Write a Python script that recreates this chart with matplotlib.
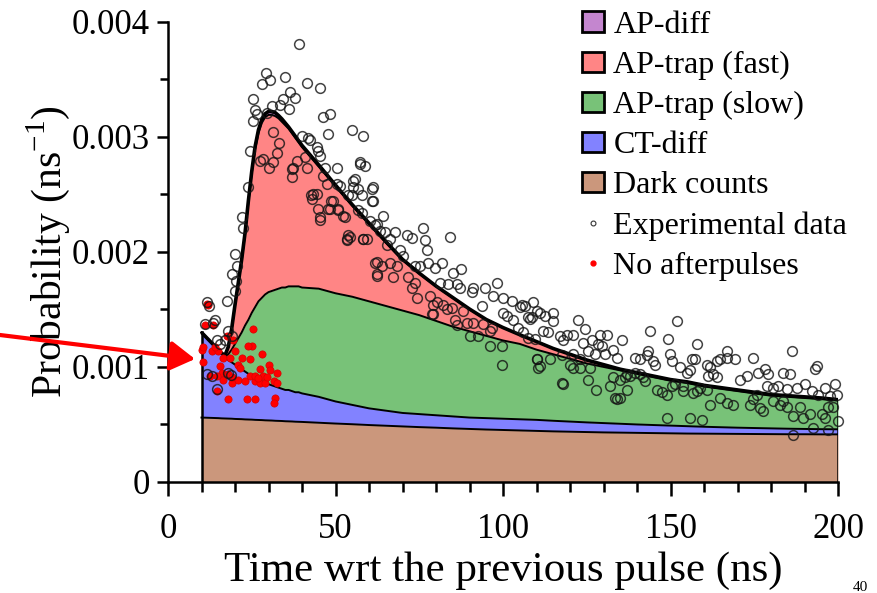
import numpy as np
import matplotlib
matplotlib.use("Agg")
import matplotlib.pyplot as plt
from matplotlib.patches import Patch, FancyArrowPatch
from matplotlib.lines import Line2D
from matplotlib.ticker import FixedLocator, FixedFormatter

plt.rcParams['font.family'] = ['Liberation Serif', 'DejaVu Serif']
plt.rcParams['mathtext.fontset'] = 'custom'
plt.rcParams['mathtext.rm'] = 'Liberation Serif'

# ---------------- data ----------------
time_ns = [10, 11, 12, 13, 14, 15, 16, 17, 18, 19, 20, 21, 22, 23, 24, 25, 26, 27, 28, 29,
           30, 31, 32, 33, 34, 35, 36, 37, 38, 39, 40, 45, 50, 55, 60, 65, 70, 75, 80, 85,
           90, 95, 100, 105, 110, 115, 120, 125, 130, 135, 140, 145, 150, 155, 160, 165,
           170, 175, 180, 185, 190, 195, 200]

# stacked tops of each component (probability, ns^-1)
dark_counts_top = [0.000560, 0.000559, 0.000558, 0.000557, 0.000556, 0.000555, 0.000553, 0.000552,
                   0.000551, 0.000550, 0.000548, 0.000547, 0.000546, 0.000544, 0.000543, 0.000542,
                   0.000540, 0.000539, 0.000538, 0.000536, 0.000535, 0.000534, 0.000532, 0.000531,
                   0.000530, 0.000528, 0.000527, 0.000526, 0.000524, 0.000523, 0.000522,
                   0.000515, 0.000508, 0.000502, 0.000495, 0.000489, 0.000483, 0.000477, 0.000472,
                   0.000466, 0.000461, 0.000456, 0.000452, 0.000448, 0.000444, 0.000440, 0.000437,
                   0.000434, 0.000431, 0.000429, 0.000427, 0.000425, 0.000423, 0.000421, 0.000420,
                   0.000419, 0.000418, 0.000417, 0.000416, 0.000415, 0.000415, 0.000414, 0.000414]

ct_diff_top = [0.00130, 0.00127, 0.00124, 0.00121, 0.00118, 0.00115, 0.00112, 0.00109, 0.00106,
               0.00104, 0.00102, 0.00100, 0.00098, 0.00096, 0.00094, 0.00092, 0.00090, 0.00089,
               0.00087, 0.00086, 0.00085, 0.00084, 0.00083, 0.00082, 0.00081, 0.00080, 0.00080,
               0.00079, 0.00078, 0.00078, 0.00077,
               0.00074, 0.00070, 0.00067, 0.00064, 0.00062, 0.00060, 0.00059, 0.00058, 0.00057,
               0.00056, 0.000555, 0.00055, 0.000545, 0.00054, 0.000532, 0.000525, 0.000518,
               0.000512, 0.000506, 0.000500, 0.000495, 0.000490, 0.000485, 0.000480, 0.000476,
               0.000472, 0.000469, 0.000466, 0.000463, 0.000461, 0.000459, 0.000458]

ap_slow_top = [0.00130, 0.00127, 0.00124, 0.00121, 0.00118, 0.00115, 0.00112, 0.00109, 0.00111,
               0.00115, 0.00120, 0.00125, 0.00130, 0.00136, 0.00141, 0.00147, 0.00152, 0.00157,
               0.00160, 0.00163, 0.00165, 0.00166, 0.00167, 0.00168, 0.00169, 0.00169, 0.00170,
               0.00170, 0.00170, 0.00170, 0.00169,
               0.00168, 0.00164, 0.00161, 0.00157, 0.00153, 0.00149, 0.00145, 0.00140, 0.00135,
               0.00131, 0.00127, 0.00123, 0.00120, 0.00115, 0.00111, 0.00107, 0.00103, 0.00100,
               0.00097, 0.00094, 0.00091, 0.00088, 0.00086, 0.00083, 0.00081, 0.00079, 0.00077,
               0.00075, 0.00074, 0.00073, 0.00072, 0.00071]

ap_fast_top = [0.00130, 0.00127, 0.00124, 0.00121, 0.00118, 0.00115, 0.00112, 0.00110, 0.00117,
               0.00132, 0.00153, 0.00172, 0.00192, 0.00215, 0.00243, 0.00268, 0.00289, 0.00303,
               0.00312, 0.00317, 0.00319, 0.00319, 0.00318, 0.00316, 0.00313, 0.00310, 0.00307,
               0.00303, 0.00299, 0.00295, 0.00291,
               0.00274, 0.00257, 0.00240, 0.00224, 0.00208, 0.00193, 0.00181, 0.00170, 0.00160,
               0.00150, 0.00141, 0.00134, 0.00128, 0.00122, 0.00116, 0.00111, 0.00106, 0.00102,
               0.00098, 0.00095, 0.00092, 0.00089, 0.00087, 0.00084, 0.00082, 0.00080, 0.00078,
               0.00076, 0.00075, 0.00074, 0.00073, 0.000715]

ap_diff_top = [0.00130, 0.00127, 0.00124, 0.00121, 0.00118, 0.00115, 0.00112, 0.00110, 0.001175,
               0.001330, 0.001540, 0.001735, 0.001935, 0.002165, 0.002445, 0.002700, 0.002915,
               0.003060, 0.003150, 0.003200, 0.003220, 0.003220, 0.003210, 0.003185, 0.003155,
               0.003120, 0.003085, 0.003045, 0.003005, 0.002965, 0.002925,
               0.002755, 0.002580, 0.002410, 0.002250, 0.002090, 0.001935, 0.001815, 0.001703,
               0.001603, 0.001503, 0.001412, 0.001342, 0.00128, 0.00122, 0.00116, 0.00111,
               0.00106, 0.00102, 0.00098, 0.00095, 0.00092, 0.00089, 0.00087, 0.00084, 0.00082,
               0.00080, 0.00078, 0.00076, 0.00075, 0.00074, 0.00073, 0.000715]

# experimental data points (time, probability)
exp_points = [
    (11.5, 0.00156), (12.2, 0.00153), (11.0, 0.00137), (13.5, 0.00138), (14.0, 0.00141),
    (17.5, 0.00157), (20.0, 0.00166), (20.2, 0.00175), (14.5, 0.00123), (17.0, 0.00123),
    (19.0, 0.00127), (15.5, 0.00120), (18.0, 0.00131), (11.5, 0.00094), (13.0, 0.00092),
    (14.5, 0.00081), (18.0, 0.00095), (18.8, 0.00093),
    (19.0, 0.00181), (20.5, 0.00188), (20.0, 0.00198), (22.5, 0.00221), (22.0, 0.00230),
    (24.0, 0.00256), (24.5, 0.00288), (25.5, 0.00314), (26.0, 0.00323), (26.5, 0.00320),
    (25.5, 0.00333), (28.0, 0.00346), (30.5, 0.00349), (31.0, 0.00327), (29.5, 0.00321),
    (33.4, 0.00328), (34.4, 0.00333), (36.0, 0.00324), (36.4, 0.00339), (41.4, 0.00347),
    (28.5, 0.00281), (27.5, 0.00279), (31.4, 0.00304), (33.0, 0.00295), (32.4, 0.00286),
    (31.4, 0.00278), (30.0, 0.00273), (37.4, 0.00273), (38.4, 0.00279), (36.9, 0.00272),
    (39.9, 0.00301), (41.9, 0.00299), (42.4, 0.00297), (44.4, 0.00291), (44.9, 0.00288),
    (46.4, 0.00317), (48.4, 0.00320), (47.9, 0.00302), (46.9, 0.00273), (36.9, 0.00265),
    (42.8, 0.00249), (44.4, 0.00250), (44.9, 0.00237), (48.4, 0.00237), (45.4, 0.00230),
    (49.3, 0.00244), (50.8, 0.00236), (52.8, 0.00230), (53.8, 0.00215), (53.3, 0.00210),
    (58.3, 0.00211), (55.8, 0.00263), (55.3, 0.00256), (57.3, 0.00276), (58.8, 0.00275),
    (60.8, 0.00255), (61.3, 0.00244), (61.8, 0.00223), (62.3, 0.00191), (62.3, 0.00181),
    (56.8, 0.00236), (39.1, 0.00381), (34.9, 0.00352), (29.3, 0.00355), (45.5, 0.00342),
    (38.0, 0.00334), (54.8, 0.00306), (58.2, 0.00301),
    (40.9, 0.00282), (41.4, 0.00273), (45.4, 0.00283), (50.3, 0.00273), (57.3, 0.00278),
    (46.4, 0.00266), (47.4, 0.00259), (50.3, 0.00259), (51.3, 0.00257), (55.3, 0.00262),
    (56.8, 0.00255), (57.8, 0.00249), (54.8, 0.00249), (53.8, 0.00249), (61.3, 0.00256),
    (60.8, 0.00244), (43.4, 0.00250), (42.9, 0.00246), (48.8, 0.00244), (47.9, 0.00237),
    (50.8, 0.00237), (52.3, 0.00231), (57.8, 0.00234), (64.3, 0.00231), (60.3, 0.00227),
    (62.3, 0.00224), (63.3, 0.00218), (64.8, 0.00217), (67.8, 0.00217), (71.2, 0.00215),
    (76.2, 0.00221), (72.7, 0.00212), (76.7, 0.00210), (77.2, 0.00202), (84.2, 0.00213),
    (53.3, 0.00211), (54.3, 0.00213), (58.3, 0.00211), (59.3, 0.00211), (66.3, 0.00211),
    (69.3, 0.00202), (65.3, 0.00206), (70.2, 0.00196), (61.8, 0.00190), (63.8, 0.00188),
    (66.3, 0.00190), (68.3, 0.00188), (73.7, 0.00188), (75.2, 0.00188), (77.7, 0.00190),
    (79.7, 0.00186), (81.7, 0.00190), (62.3, 0.00179), (67.3, 0.00178), (71.7, 0.00178),
    (73.7, 0.00173), (72.7, 0.00169), (74.2, 0.00160), (78.2, 0.00162), (81.2, 0.00173),
    (83.7, 0.00172), (85.2, 0.00182), (87.6, 0.00185), (86.2, 0.00172), (87.2, 0.00169),
    (91.1, 0.00169), (94.6, 0.00169), (98.1, 0.00173), (79.2, 0.00154), (82.2, 0.00154),
    (80.2, 0.00156), (83.2, 0.00150), (84.7, 0.00151), (79.2, 0.00146), (86.2, 0.00136),
    (88.2, 0.00149), (90.6, 0.00165), (93.6, 0.00153), (97.1, 0.00162), (100.1, 0.00160),
    (102.6, 0.00157), (105.6, 0.00154), (108.1, 0.00142), (110.1, 0.00149), (89.2, 0.00138),
    (91.1, 0.00138), (94.1, 0.00137), (96.6, 0.00134), (100.1, 0.00147), (101.1, 0.00144),
    (103.1, 0.00141), (104.6, 0.00134), (106.1, 0.00130), (107.6, 0.00125), (109.6, 0.00124),
    (90.1, 0.00127), (92.6, 0.00127), (96.1, 0.00131), (96.1, 0.00118), (99.6, 0.00118),
    (99.6, 0.00102), (110.1, 0.00107), (111.0, 0.00101), (45.4, 0.00228), (78.7, 0.00146),
    (85.7, 0.00141),
    (106.6, 0.00153), (109.0, 0.00156), (111.0, 0.00147), (112.5, 0.00144), (115.0, 0.00147),
    (115.0, 0.00140), (107.6, 0.00143), (108.6, 0.00143), (105.1, 0.00152), (122.5, 0.00141),
    (124.5, 0.00133), (112.0, 0.00131), (113.5, 0.00130), (117.0, 0.00127), (119.0, 0.00128),
    (121.0, 0.00128), (118.0, 0.00123), (124.0, 0.00121), (126.5, 0.00123), (129.0, 0.00128),
    (131.0, 0.00128), (128.5, 0.00120), (129.5, 0.00118), (135.4, 0.00123), (132.9, 0.00115),
    (133.9, 0.00108), (130.4, 0.00111), (127.5, 0.00111), (125.5, 0.00114), (121.0, 0.00111),
    (123.0, 0.00107), (117.5, 0.00110), (114.0, 0.00107), (143.9, 0.00131), (151.8, 0.00140),
    (149.3, 0.00124), (157.8, 0.00120), (143.4, 0.00114), (142.9, 0.00110), (139.4, 0.00108),
    (140.9, 0.00107), (144.9, 0.00105), (145.4, 0.00102), (149.8, 0.00111), (150.3, 0.00105),
    (156.3, 0.00107), (157.3, 0.00107), (154.8, 0.00095), (155.8, 0.00097), (152.8, 0.00100),
    (160.8, 0.00102), (161.8, 0.00100), (163.8, 0.00105), (164.8, 0.00107), (166.8, 0.00108),
    (166.8, 0.00114), (169.3, 0.00107), (174.7, 0.00108), (176.2, 0.00095), (178.2, 0.00098),
    (179.2, 0.00094), (183.7, 0.00095), (185.7, 0.00094), (186.2, 0.00114), (193.1, 0.00098),
    (193.6, 0.00101), (161.3, 0.00092), (162.8, 0.00094), (163.8, 0.00091), (170.7, 0.00089),
    (172.7, 0.00092), (178.7, 0.00083), (180.7, 0.00082), (182.2, 0.00083), (184.7, 0.00081),
    (187.7, 0.00082), (190.1, 0.00085), (196.1, 0.00082), (199.1, 0.00085), (192.1, 0.00079),
    (194.1, 0.00076), (197.6, 0.00075), (199.6, 0.00076),
    (110.0, 0.00107), (110.5, 0.00099), (117.5, 0.00086), (118.0, 0.00085), (125.5, 0.00089),
    (120.0, 0.00102), (121.0, 0.00099), (123.0, 0.00099), (126.0, 0.00099), (132.9, 0.00091),
    (134.9, 0.00089), (136.4, 0.00091), (136.9, 0.00094), (137.9, 0.00092), (139.4, 0.00095),
    (140.9, 0.00094), (141.9, 0.00091), (142.4, 0.00088), (127.9, 0.00080), (131.9, 0.00083),
    (133.4, 0.00073), (134.9, 0.00073), (136.9, 0.00080), (145.9, 0.00080), (147.4, 0.00078),
    (148.9, 0.00076), (150.3, 0.00083), (151.3, 0.00085), (153.8, 0.00083), (153.8, 0.00079),
    (156.8, 0.00077), (157.8, 0.00079), (158.8, 0.00082), (160.8, 0.00080), (161.8, 0.00067),
    (164.8, 0.00073), (166.8, 0.00069), (168.8, 0.00067), (173.7, 0.00067), (174.7, 0.00072),
    (175.7, 0.00076), (176.7, 0.00064), (177.7, 0.00062), (180.7, 0.00070), (182.7, 0.00067),
    (183.7, 0.00070), (184.7, 0.00065), (186.7, 0.00057), (188.7, 0.00065), (189.7, 0.00056),
    (191.7, 0.00059), (192.6, 0.00047), (195.1, 0.00059), (196.1, 0.00056), (197.1, 0.00065),
    (198.6, 0.00065), (200.1, 0.00053), (186.7, 0.00041), (148.9, 0.00056), (155.8, 0.00056),
    (159.3, 0.00054), (133.9, 0.00072), (197.1, 0.00045),
]

# "no afterpulses" measurement points
noap_time = [11.8, 13.5, 11.0, 10.0, 13.0, 15.0, 10.5, 12.5, 14.5, 15.5, 16.5, 17.5, 19.5, 20.0,
             18.5, 16.0, 18.0, 19.0, 16.5, 21.0, 22.0, 24.5, 25.5, 25.0, 28.0, 21.5, 21.0, 23.0,
             24.5, 26.0, 27.5, 28.5, 30.0, 30.5, 32.5, 29.0, 31.5, 32.5, 18.0, 23.5, 26.0, 32.0,
             31.5, 26.0, 27.0, 29.5, 27.5, 19.0, 14.5, 10.5, 14.0, 11.5, 24.0]
noap_prob = [0.00154, 0.00136, 0.00136, 0.00115, 0.00114, 0.00114, 0.00104, 0.00092, 0.00079,
             0.00101, 0.00108, 0.00127, 0.00123, 0.00114, 0.00108, 0.00095, 0.00094, 0.00086,
             0.00089, 0.00102, 0.00108, 0.00107, 0.00133, 0.00118, 0.00111, 0.00099, 0.00089,
             0.00088, 0.00092, 0.00088, 0.00086, 0.00092, 0.00102, 0.00097, 0.00095, 0.00086,
             0.00088, 0.00086, 0.00072, 0.00072, 0.00072, 0.00073, 0.00069, 0.00092, 0.00090,
             0.00091, 0.00098, 0.00091, 0.00092, 0.00117, 0.00117, 0.00155, 0.00118]

legend_labels = ['AP-diff', 'AP-trap (fast)', 'AP-trap (slow)', 'CT-diff', 'Dark counts',
                 'Experimental data', 'No afterpulses']
y_tick_values = [0, 0.001, 0.002, 0.003, 0.004]
y_tick_labels = ['0', '0.001', '0.002', '0.003', '0.004']
x_tick_values = [0, 50, 100, 150, 200]

# ---------------- figure ----------------
W, H = 877, 593
fig = plt.figure(figsize=(W / 100, H / 100), dpi=100)
ax = fig.add_axes([168 / W, 1 - 482 / H, 670 / W, (482 - 21.7) / H])

c_dark = '#CB977C'
c_ct = '#8282FF'
c_slow = '#78C278'
c_fast = '#FF8585'
c_apd = '#C486CF'

t = np.array(time_ns)
layers = [np.zeros_like(t, dtype=float), np.array(dark_counts_top), np.array(ct_diff_top),
          np.array(ap_slow_top), np.array(ap_fast_top), np.array(ap_diff_top)]
colors = [c_dark, c_ct, c_slow, c_fast, c_apd]
for i, col in enumerate(colors):
    ax.fill_between(t, layers[i], layers[i + 1], color=col, lw=0, zorder=1)
for i in range(1, 5):
    ax.plot(t, layers[i], color='black', lw=1.4, zorder=2)
ax.plot(t, layers[5], color='black', lw=2.6, zorder=2, solid_capstyle='butt')
ax.plot([t[0], t[0]], [0, layers[5][0]], color='black', lw=1.8, zorder=2)
ax.plot([t[-1], t[-1]], [0, layers[5][-1]], color='black', lw=1.8, zorder=2)

ax.plot(noap_time, noap_prob, linestyle='none', marker='o', ms=5.2, mfc='#FF0000',
        mec='#D80000', mew=0.5, zorder=3)
exp_t = [p[0] for p in exp_points]
exp_y = [p[1] for p in exp_points]
ax.plot(exp_t, exp_y, linestyle='none', marker='o', ms=7.0, mfc='none',
        mec=(0.08, 0.08, 0.08, 0.8), mew=1.1, zorder=4, clip_on=False)

ax.set_xlim(0, 200)
ax.set_ylim(0, 0.004)
for s in ['top', 'right']:
    ax.spines[s].set_visible(False)
for s in ['left', 'bottom']:
    ax.spines[s].set_linewidth(1.8)

ax.xaxis.set_major_locator(FixedLocator(x_tick_values))
ax.xaxis.set_minor_locator(FixedLocator(list(range(0, 201, 10))))
ax.yaxis.set_major_locator(FixedLocator(y_tick_values))
ax.yaxis.set_major_formatter(FixedFormatter(y_tick_labels))
ax.yaxis.set_minor_locator(FixedLocator([0.0005, 0.0015, 0.0025, 0.0035]))
ax.tick_params(axis='x', which='major', direction='out', length=10, width=1.8,
               labelsize=25, pad=12)
ax.tick_params(axis='x', which='minor', direction='out', length=7, width=1.8)
ax.tick_params(axis='y', which='major', direction='out', length=8, width=1.8,
               labelsize=25, pad=5)
ax.tick_params(axis='y', which='minor', direction='out', length=6, width=1.8)

ax.set_xlabel('Time wrt the previous pulse (ns)', fontsize=31, labelpad=4)
ax.set_ylabel(r'Probability (ns$^{\mathregular{-1}}$)', fontsize=30, labelpad=0)

handles = [Patch(facecolor=c_apd, edgecolor='black', lw=2),
           Patch(facecolor=c_fast, edgecolor='black', lw=2),
           Patch(facecolor=c_slow, edgecolor='black', lw=2),
           Patch(facecolor=c_ct, edgecolor='black', lw=2),
           Patch(facecolor=c_dark, edgecolor='black', lw=2),
           Line2D([], [], ls='none', marker='o', ms=3.5, mfc='none', mec='#333333', mew=0.8),
           Line2D([], [], ls='none', marker='o', ms=3.5, mfc='#FF0000', mec='#FF0000')]
leg = fig.legend(handles, legend_labels, loc='upper left',
                 bbox_to_anchor=(582 / W, 1 - 11 / H), frameon=False, fontsize=23,
                 handlelength=0.68, handleheight=0.62, handletextpad=0.3,
                 labelspacing=0.345, borderpad=0, borderaxespad=0)

arrow = FancyArrowPatch((0, 1 - 335 / H), (195 / W, 1 - 359 / H), transform=fig.transFigure,
                        arrowstyle='-|>,head_length=1.5,head_width=0.9', mutation_scale=10,
                        lw=3, color='#FF0000', shrinkA=0, shrinkB=0)
fig.add_artist(arrow)

fig.text(853 / W, 1 - 591 / H, '40', fontsize=11, color='black', va='baseline', ha='left')

fig.savefig('out.png', dpi=100)
